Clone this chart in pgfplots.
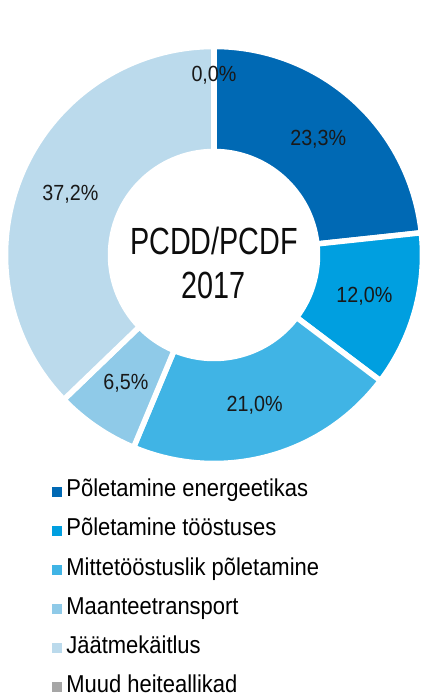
\documentclass[border=0pt]{standalone}
\usepackage{pgfplots}
\usepackage{pgfplotstable}
\pgfplotsset{compat=1.18}
\usepackage{fontspec}
\setmainfont{Liberation Sans}[FakeStretch=0.9]
\newfontfamily\narrowfont{Liberation Sans}[FakeStretch=0.76]

\definecolor{c1}{HTML}{0069B4}
\definecolor{c2}{HTML}{009FE0}
\definecolor{c3}{HTML}{40B4E5}
\definecolor{c4}{HTML}{8FCAE8}
\definecolor{c5}{HTML}{BBDAEC}
\definecolor{c6}{HTML}{A6A6A6}

% share (%), colour, label radius
\pgfplotstableread{
val  col  lr
23.3 c1   156
12.0 c2   156
21.0 c3   156
6.5  c4   156
37.2 c5   156
0.0  c6   180
}\piedata

\begin{document}
\begin{tikzpicture}
\begin{axis}[
  x=1bp, y=1bp,
  xmin=-214, xmax=207,
  ymin=-442, ymax=255,
  hide axis,
  clip=false,
  /pgf/number format/assume math mode=true,
  legend cell align=left,
  legend image code/.code={\fill[#1] (0bp,-4.5bp) rectangle (8.5bp,4.5bp);},
  legend style={
    at={(axis cs:-162,-226)}, anchor=north west,
    draw=none, fill=none, inner sep=0pt, outer sep=0pt,
    font=\fontsize{24.5}{28}\selectfont,
    row sep=18bp,
    nodes={inner xsep=5.5bp, inner ysep=0pt, text height=16bp, text depth=5bp},
  },
]
\def\cum{0}
\pgfplotsinvokeforeach{0,...,5}{
  \pgfplotstablegetelem{#1}{val}\of\piedata \let\v\pgfplotsretval
  \pgfplotstablegetelem{#1}{col}\of\piedata \let\c\pgfplotsretval
  \pgfplotstablegetelem{#1}{lr}\of\piedata \let\lr\pgfplotsretval
  \pgfmathsetmacro\sa{90-3.6*\cum}
  \pgfmathsetmacro\ea{90-3.6*(\cum+\v)}
  \pgfmathsetmacro\ma{(\sa+\ea)/2}
  \pgfmathsetmacro\xa{208.5*cos(\sa)}
  \pgfmathsetmacro\ya{208.5*sin(\sa)}
  \pgfmathsetmacro\xb{103.5*cos(\ea)}
  \pgfmathsetmacro\yb{103.5*sin(\ea)}
  \pgfmathsetmacro\xl{\lr*cos(\ma)}
  \pgfmathsetmacro\yl{\lr*sin(\ma)}
  \edef\temp{%
    \noexpand\fill[fill=\c, draw=white, line width=5.5bp, line join=round]
      (axis cs:\xa,\ya) arc[start angle=\sa, end angle=\ea, radius=208.5bp]
      -- (axis cs:\xb,\yb) arc[start angle=\ea, end angle=\sa, radius=103.5bp] -- cycle;
    \noexpand\node[font=\noexpand\fontsize{22}{26}\noexpand\selectfont, text=black!90]
      at (axis cs:\xl,\yl)
      {\noexpand\pgfmathprintnumber[use comma,fixed,fixed zerofill,precision=1]{\v}\noexpand\%};
  }
  \temp
  \pgfmathsetmacro\newcum{\cum+\v}
  \xdef\cum{\newcum}
}
\node[align=center, font=\narrowfont\fontsize{38}{44}\selectfont, text=black!95]
  at (axis cs:0,-8) {PCDD/PCDF\\2017};

\addlegendimage{c1}
\addlegendentry{Põletamine energeetikas}
\addlegendimage{c2}
\addlegendentry{Põletamine tööstuses}
\addlegendimage{c3}
\addlegendentry{Mittetööstuslik põletamine}
\addlegendimage{c4}
\addlegendentry{Maanteetransport}
\addlegendimage{c5}
\addlegendentry{Jäätmekäitlus}
\addlegendimage{c6}
\addlegendentry{Muud heiteallikad}
\end{axis}
\pgfresetboundingbox
\path[use as bounding box] (current axis.south west) rectangle (current axis.north east);
\end{tikzpicture}
\end{document}
